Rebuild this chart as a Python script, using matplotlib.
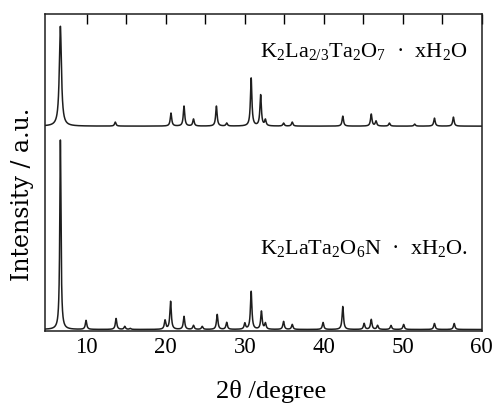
import numpy as np
import matplotlib
matplotlib.use("Agg")
import matplotlib.pyplot as plt

plt.rcParams['font.family'] = ['Liberation Serif', 'DejaVu Serif']
plt.rcParams['mathtext.fontset'] = 'custom'
plt.rcParams['mathtext.rm'] = 'Liberation Serif'
plt.rcParams['mathtext.default'] = 'regular'

# peak list of K2La2/3Ta2O7 . xH2O  (2theta, height)
top_pos = [6.65, 13.6, 20.65, 22.3, 23.5, 26.4, 27.7, 30.8, 32.0, 32.6, 34.9, 36.0,
           42.4, 46.0, 46.6, 48.3, 51.5, 54.0, 56.4]
top_int = [100, 4, 13, 20, 7, 20, 3, 48, 31, 6, 3, 4,
           10, 12, 5, 3, 2, 8, 9]
top_base = 205

# peak list of K2LaTa2O6N . xH2O
bot_pos = [6.65, 9.9, 13.7, 14.8, 15.5, 19.9, 20.6, 22.3, 23.5, 24.6, 26.5, 27.7,
           30.0, 30.8, 32.1, 32.6, 34.9, 36.0, 39.9, 42.4, 45.1, 46.0, 46.8, 48.5,
           50.1, 54.0, 56.5]
bot_int = [190, 9, 11, 3, 1, 9, 28, 13, 4, 3, 15, 7,
           6, 38, 18, 6, 8, 5, 7, 23, 6, 10, 4, 4,
           5, 6, 6]
bot_base = 1.5

x = np.linspace(4.7, 60, 6000)


def pattern(pos, inten, base, w=0.11, w0=0.13):
    y = np.full_like(x, base, dtype=float)
    for p, h in zip(pos, inten):
        ww = w0 if p < 8 else w
        y += h * ww ** 2 / ((x - p) ** 2 + ww ** 2)
    return y


fig = plt.figure(figsize=(4.97, 4.03), dpi=100)
ax = fig.add_axes([0.0905, 0.1787, 0.879, 0.786])

ax.plot(x, pattern(top_pos, top_int, top_base, w0=0.16), color="#1e1e1e", lw=1.1)
ax.plot(x, pattern(bot_pos, bot_int, bot_base, w0=0.09), color="#1e1e1e", lw=1.1)

ax.set_xlim(4.7, 60)
ax.set_ylim(0, 317)
ax.set_yticks([])
ax.set_xticks([10, 20, 30, 40, 50, 60])
ax.set_xticks(np.arange(10, 60, 5), minor=True)
ax.tick_params(axis="x", which="both", direction="in", bottom=False, top=True,
               length=7, width=1, labelsize=16.5, pad=4)
for s in ax.spines.values():
    s.set_linewidth(1.1)
    s.set_color("#1e1e1e")

ax.set_xlabel("2θ /degree", fontsize=19)
ax.xaxis.set_label_coords(0.518, -0.155)
ax.set_ylabel("Intensity / a.u.", fontsize=17, family="DejaVu Serif")
ax.yaxis.set_label_coords(-0.025, 0.43)

ax.text(0.492, 0.864, r"K$_2$La$_{2/3}$Ta$_2$O$_7$  ·  xH$_2$O", transform=ax.transAxes,
        ha="left", va="baseline", fontsize=16)
ax.text(0.492, 0.243, r"K$_2$LaTa$_2$O$_6$N  ·  xH$_2$O.", transform=ax.transAxes,
        ha="left", va="baseline", fontsize=16)

fig.savefig("out.png", dpi=100)
